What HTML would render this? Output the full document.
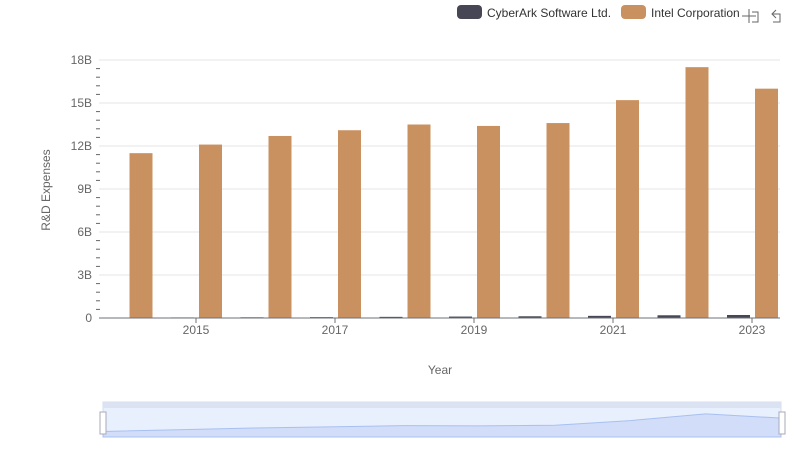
<!DOCTYPE html>
<html><head><meta charset="utf-8"><style>
body{margin:0;background:#fff;font-family:"Liberation Sans",sans-serif}
</style></head><body>
<svg id="c" width="800" height="461" xmlns="http://www.w3.org/2000/svg" style="font-family:'Liberation Sans',sans-serif">
<g>
<g><rect x="457" y="5" width="25" height="14" rx="4" fill="#464655"/><text x="487" y="17" font-size="12" fill="#333">CyberArk Software Ltd.</text></g>
<g><rect x="621" y="5" width="25" height="14" rx="4" fill="#c9915f"/><text x="651" y="17" font-size="12" fill="#333">Intel Corporation</text></g>
</g>
<g stroke="#666" fill="none" stroke-width="1"><path d="M749 9v14M742 16h14M752 12h6v10h-6"/><path d="M776 10l-4 4 4 4M772 14h8v8h-7"/></g>
<text x="50" y="190" font-size="12" fill="#666" text-anchor="middle" transform="rotate(-90 50 190)">R&amp;D Expenses</text>
<text x="440" y="374" font-size="12" fill="#666" text-anchor="middle">Year</text>
<g id="grid"></g>
<g id="bars"></g>
<g id="xa"></g>
<g>
<rect x="103" y="402" width="678" height="35" fill="#e8effd" stroke="#d4dcec"/>
<rect x="103" y="402" width="678" height="6" fill="#dbe3f3"/>
<path id="zoomArea" fill="#d2def9" stroke="#a8c0f0"/>
<rect x="100" y="412" width="6" height="22" fill="#fff" stroke="#aab"/>
<rect x="779" y="412" width="6" height="22" fill="#fff" stroke="#aab"/>
</g>
</svg>
<script>
const years=["2014","2015","2016","2017","2018","2019","2020","2021","2022","2023"];
const cyberark=[0.03,0.04,0.05,0.06,0.08,0.1,0.12,0.15,0.19,0.21];
const intel=[11.5,12.1,12.7,13.1,13.5,13.4,13.6,15.2,17.5,16.0];
const yTicks=[0,3,6,9,12,15,18];
const yTickLabels=["0","3B","6B","9B","12B","15B","18B"];
const NS="http://www.w3.org/2000/svg";
function y(v){return 318-v/18*258;}
function xc(i){return 126.5+69.5*i;}
function mk(t,a,p){const e=document.createElementNS(NS,t);for(const k in a)e.setAttribute(k,a[k]);p.appendChild(e);return e;}
const g=document.getElementById('grid');
yTicks.forEach((v,i)=>{
 if(v>0){const l=mk('line',{x1:99,x2:780,y1:y(v),y2:y(v),stroke:'#e6e6e6'},g);}
 const t=mk('text',{x:92,y:y(v)+4,'font-size':12,fill:'#666','text-anchor':'end'},g);t.textContent=yTickLabels[i];
 
 if(i<yTicks.length-1)for(let k=1;k<5;k++){mk('line',{x1:96,x2:100,y1:y(v+k*0.6),y2:y(v+k*0.6),stroke:'#666'},g);}
});
const b=document.getElementById('bars');
years.forEach((yr,i)=>{
 const c=xc(i);
 const r1=mk('rect',{x:c-25,y:y(cyberark[i]),width:23,height:318-y(cyberark[i]),fill:'#464655'},b);
 
 const r2=mk('rect',{x:c+3,y:y(intel[i]),width:23,height:318-y(intel[i]),fill:'#c9915f'},b);
 
});
const xa=document.getElementById('xa');
mk('line',{x1:99,x2:780,y1:318,y2:318,stroke:'#6e7079'},xa);
years.forEach((yr,i)=>{
 if(i%2==1){mk('line',{x1:xc(i),x2:xc(i),y1:318,y2:323,stroke:'#6e7079'},xa);
 const t=mk('text',{x:xc(i),y:334,'font-size':12,fill:'#666','text-anchor':'middle'},xa);t.textContent=yr;
 }
});
let d='M103 433';
intel.forEach((v,i)=>{const cv=v+cyberark[i];d+=' L'+(103+678*i/9)+' '+(433-(cv-11)/7*20);});
d+=' L781 437 L103 437Z';
document.getElementById('zoomArea').setAttribute('d',d);
</script>
</body></html>
